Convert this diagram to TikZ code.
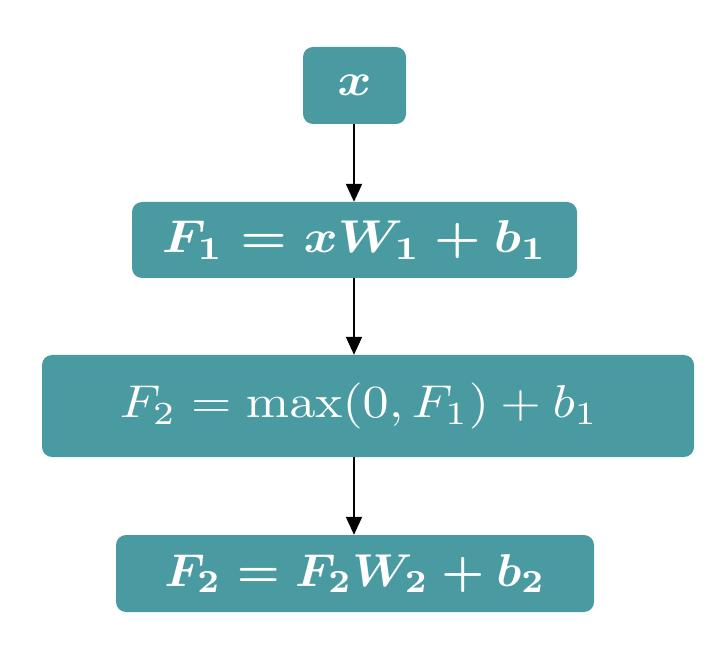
\documentclass[tikz,border=0pt]{standalone}
\usetikzlibrary{arrows.meta}
\definecolor{teal1}{HTML}{4A9BA1}
\newcommand{\bigmath}[2][5.2]{{\boldmath\scalebox{#1}[4.6]{$#2$}}}
\newcommand{\plainmath}[2][5.2]{{\scalebox{#1}[4.6]{$#2$}}}
\begin{document}
\begin{tikzpicture}[x=1pt,y=-1pt,
  box/.style={fill=teal1, rounded corners=10pt, text=white, inner sep=0pt},
  arr/.style={-{Triangle[length=18pt,width=16pt]}, line width=2pt, black}]
\useasboundingbox (0,0) rectangle (710,652);
\node[box, minimum width=103pt, minimum height=77pt] (x) at (354.5,85.5) {\bigmath{x}};
\node[box, minimum width=445pt, minimum height=76pt] (f1) at (354.5,240) {\bigmath{F_1 = xW_1 + b_1}};
\node[box, minimum width=652pt, minimum height=102pt] (f2) at (368,406) {\plainmath{F_2 = \max(0, F_1) + b_1}\hspace*{18pt}};
\node[box, minimum width=478pt, minimum height=77pt] (f3) at (355,573.5) {\bigmath[4.8]{F_2 = F_2W_2 + b_2}};
\coordinate (c) at (354,0);
\draw[arr] (x.south -| c) -- (f1.north -| c);
\draw[arr] (f1.south -| c) -- (f2.north -| c);
\draw[arr] (f2.south -| c) -- (f3.north -| c);
\end{tikzpicture}
\end{document}
